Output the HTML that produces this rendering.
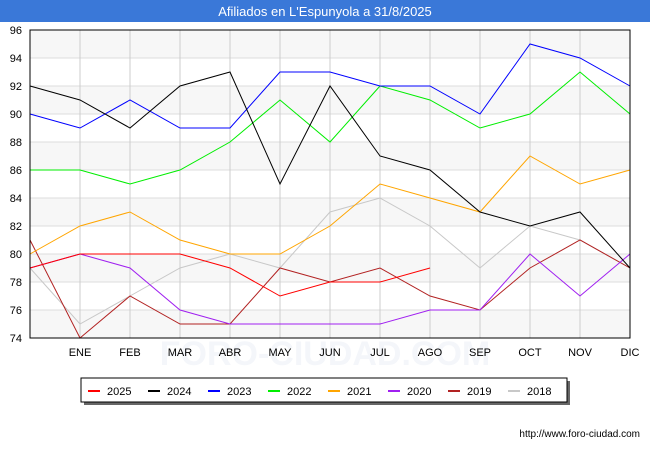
<!DOCTYPE html>
<html><head><meta charset="utf-8"><style>
body{margin:0;width:650px;height:450px;background:#fff;font-family:"Liberation Sans",sans-serif;overflow:hidden}
</style></head><body>
<svg width="650" height="450" xmlns="http://www.w3.org/2000/svg">
<rect x="0" y="0" width="650" height="22" fill="#3a78d8"/>
<text x="325" y="16" text-anchor="middle" fill="#fff" font-size="13">Afiliados en L'Espunyola a 31/8/2025</text>
<g id="bands"></g><g id="grid"></g>
<text x="325" y="365" text-anchor="middle" font-size="34" fill="#f4f6fa" font-weight="bold">FORO-CIUDAD.COM</text>
<g id="series"></g>
<rect x="30" y="30" width="600" height="308" fill="none" stroke="#000"/>
<g id="axes" font-size="11" fill="#000"></g>
<rect x="84" y="381" width="486" height="24" fill="#666"/>
<rect x="81" y="378" width="486" height="24" fill="#fff" stroke="#000"/>
<g id="legend" font-size="11"></g>
<text x="640" y="437" text-anchor="end" font-size="10">http://www.foro-ciudad.com</text>
</svg>
<script>
const months=["","ENE","FEB","MAR","ABR","MAY","JUN","JUL","AGO","SEP","OCT","NOV","DIC"];
const yTicks=[74,76,78,80,82,84,86,88,90,92,94,96];
const seriesNames=["2025","2024","2023","2022","2021","2020","2019","2018"];
const seriesColors=["#ff0000","#000000","#0000ff","#00ee00","#ffa500","#a020f0","#b22222","#c8c8c8"];
const s2025=[79,80,80,80,79,77,78,78,79];
const s2024=[92,91,89,92,93,85,92,87,86,83,82,83,79];
const s2023=[90,89,91,89,89,93,93,92,92,90,95,94,92];
const s2022=[86,86,85,86,88,91,88,92,91,89,90,93,90];
const s2021=[80,82,83,81,80,80,82,85,84,83,87,85,86];
const s2020=[79,80,79,76,75,75,75,75,76,76,80,77,80];
const s2019=[81,74,77,75,75,79,78,79,77,76,79,81,79];
const s2018=[79,75,77,79,80,79,83,84,82,79,82,81,79];
const allSeries=[s2025,s2024,s2023,s2022,s2021,s2020,s2019,s2018];
const NS="http://www.w3.org/2000/svg";
const X=i=>30+i*(600/12), Y=v=>338-(v-74)*(308/22);
function mk(t,a,p){const e=document.createElementNS(NS,t);for(const k in a)e.setAttribute(k,a[k]);p.appendChild(e);return e;}
const bands=document.getElementById('bands'),grid=document.getElementById('grid'),axes=document.getElementById('axes');
for(let v=74;v<96;v+=4){const r=mk('rect',{x:30,y:Y(v+2),width:600,height:Y(v)-Y(v+2),fill:'#f7f7f7'},bands);

}
yTicks.forEach(v=>{const l=mk('line',{x1:30,x2:630,y1:Y(v),y2:Y(v),stroke:'#ddd'},grid);


const t=mk('text',{x:22,y:Y(v)+4,'text-anchor':'end'},axes);t.textContent=v;

});
months.forEach((m,i)=>{if(i>0){const l=mk('line',{x1:X(i),x2:X(i),y1:30,y2:338,stroke:'#ccc'},grid);

}
if(m){const t=mk('text',{x:X(i),y:356,'text-anchor':'middle'},axes);t.textContent=m;

}});
const sg=document.getElementById('series');
for(let k=allSeries.length-1;k>=0;k--){const d=allSeries[k];
const p=mk('polyline',{points:d.map((v,i)=>X(i)+','+Y(v)).join(' '),fill:'none',stroke:seriesColors[k],'stroke-width':1},sg);

}
const lg=document.getElementById('legend');
seriesNames.forEach((n,k)=>{const x=88+k*60;
const l=mk('line',{x1:x,x2:x+12,y1:391,y2:391,stroke:seriesColors[k],'stroke-width':2},lg);


const t=mk('text',{x:x+19,y:395},lg);t.textContent=n;

});
</script>
</body></html>
